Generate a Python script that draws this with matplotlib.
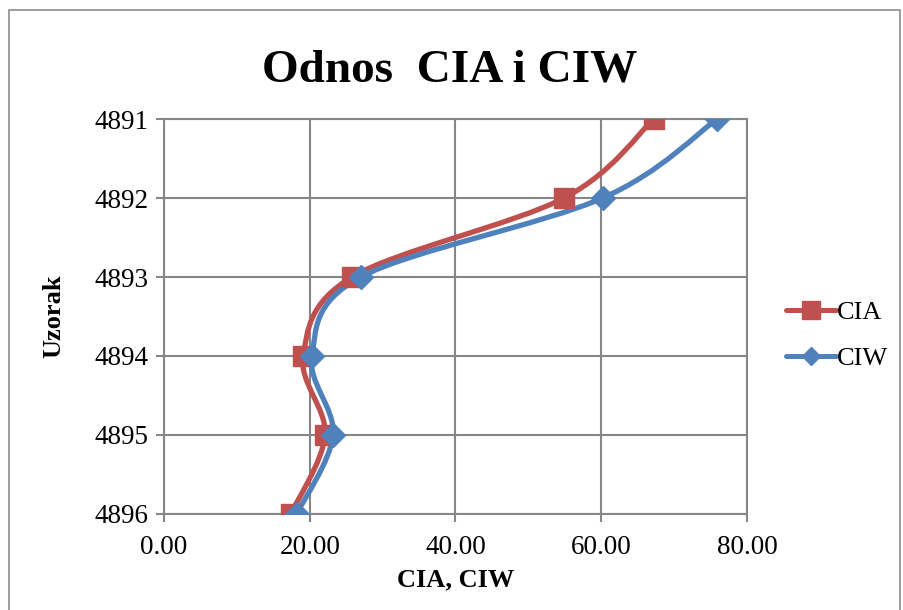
import matplotlib.pyplot as plt
from matplotlib.path import Path
from matplotlib.patches import PathPatch, Rectangle
from matplotlib.lines import Line2D

plt.rcParams['font.family'] = ['Liberation Serif', 'DejaVu Serif']

samples = [4891, 4892, 4893, 4894, 4895, 4896]
cia = [67.2, 54.9, 25.8, 19.1, 22.1, 17.4]
ciw = [75.9, 60.2, 27.0, 20.3, 23.2, 18.2]

red = '#C0504D'
blue = '#4F81BD'
grid_col = '#868686'


def smooth_path(xs, ys):
    # Excel-like smoothing: cubic Bezier through the points (Catmull-Rom tangents)
    pts = list(zip(xs, ys))
    n = len(pts)
    verts = [pts[0]]
    codes = [Path.MOVETO]
    for i in range(n - 1):
        p0 = pts[i - 1] if i > 0 else pts[i]
        p1 = pts[i]
        p2 = pts[i + 1]
        p3 = pts[i + 2] if i + 2 < n else pts[i + 1]
        c1 = (p1[0] + (p2[0] - p0[0]) / 6, p1[1] + (p2[1] - p0[1]) / 6)
        c2 = (p2[0] - (p3[0] - p1[0]) / 6, p2[1] - (p3[1] - p1[1]) / 6)
        verts += [c1, c2, p2]
        codes += [Path.CURVE4] * 3
    return Path(verts, codes)


fig = plt.figure(figsize=(9.04, 6.10), dpi=100)
ax = fig.add_axes([0.1814, 0.1574, 0.6449, 0.6475])

# outer chart border
fig.patches.append(Rectangle((9 / 904, -0.05), 891 / 904, 1.05 - 10 / 610,
                             transform=fig.transFigure, fill=False,
                             edgecolor='#8c8c8c', linewidth=1.2))

for vals, col, mk, ms in [(cia, red, 's', 14), (ciw, blue, 'D', 12)]:
    ax.add_patch(PathPatch(smooth_path(vals, samples), facecolor='none',
                           edgecolor=col, linewidth=3.8, zorder=3,
                           capstyle='round', joinstyle='round'))
    ax.plot(vals, samples, linestyle='none', marker=mk, markersize=ms,
            color=col, zorder=4)

ax.set_xlim(0, 80)
ax.set_ylim(4896, 4891)
ax.set_xticks([0, 20, 40, 60, 80])
ax.set_xticklabels(['0.00', '20.00', '40.00', '60.00', '80.00'])
ax.set_yticks(samples)
ax.set_yticklabels([str(s) for s in samples])
ax.grid(True, color=grid_col, linewidth=1.5)
ax.set_axisbelow(True)
for sp in ax.spines.values():
    sp.set_color(grid_col)
    sp.set_linewidth(1.5)
ax.tick_params(axis='both', colors=grid_col, length=6, width=1.5,
               labelsize=19.5, labelcolor='black')
ax.tick_params(axis='x', pad=9)
ax.tick_params(axis='y', pad=5)

ax.set_xlabel('CIA, CIW', fontsize=19, fontweight='bold', labelpad=6)
ax.set_ylabel('Uzorak', fontsize=19, fontweight='bold', labelpad=21)

fig.text(0.497, 0.885, 'Odnos  CIA i CIW', fontsize=34, fontweight='bold',
         ha='center', va='center')

handles = [
    Line2D([], [], color=red, linewidth=3.6, marker='s', markersize=13,
           solid_capstyle='round'),
    Line2D([], [], color=blue, linewidth=3.6, marker='D', markersize=9,
           solid_capstyle='round'),
]
fig.legend(handles, ['CIA', 'CIW'], loc='center left',
           bbox_to_anchor=(0.843, 0.45), frameon=False, fontsize=19,
           handlelength=1.9, handletextpad=0.05, labelspacing=0.85)

fig.savefig('out.png', dpi=100)
